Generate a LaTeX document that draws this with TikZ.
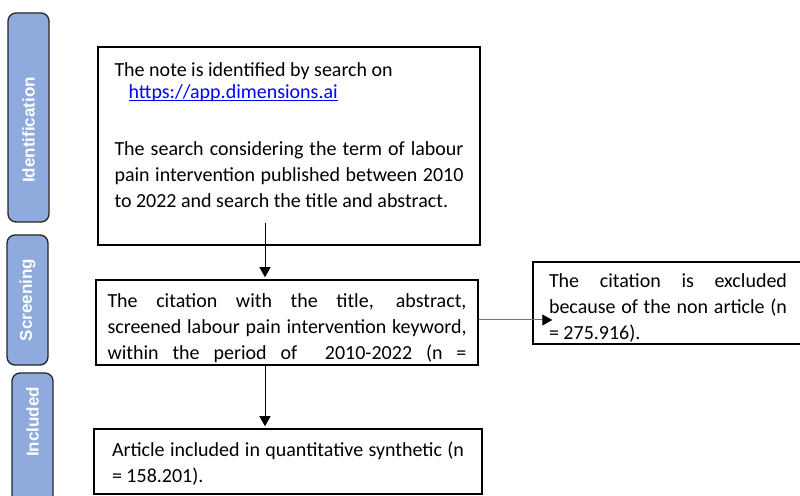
\documentclass[tikz,border=0pt]{standalone}
\usepackage{fontspec}
\setmainfont{Carlito}
\newfontfamily\phasefont{Liberation Sans}
\usetikzlibrary{arrows.meta}
\definecolor{phaseblue}{RGB}{143,170,220}
\newsavebox\linkbox

\begin{document}
\begin{tikzpicture}[x=1pt,y=1pt,
    phase/.style={draw=black!85, line width=1.3pt, fill=phaseblue, rounded corners=8pt,
        minimum height=41pt, rotate=90, text=white, inner sep=0pt,
        font=\phasefont\bfseries\fontsize{17}{20}\selectfont},
    box/.style={draw, line width=1.5pt, inner ysep=0pt,
        font=\fontsize{20}{26}\selectfont},
    arr/.style={-{Triangle[length=10pt,width=11pt]}, line width=1pt, shorten >=2pt}]
    \useasboundingbox (0,0) rectangle (800,495);

    % Phases
    \node[phase, minimum width=209pt] (idphase) at (28.5,377.5) {Identification\hspace*{25pt}};
    \node[phase, minimum width=130pt] (scphase) at (27.5,195) {Screening};
    \node[phase, minimum width=137pt] (inphase) at (32.5,53.5) {\hspace*{39pt}Included};

    % Boites
    \node[box, inner xsep=16.5pt] (ident) at (289,349) {\parbox[c][198pt][t]{349pt}{%
        \vspace*{11.8pt}\strut The note is identified by search on\\[-4pt]
        \hspace*{14pt}\sbox\linkbox{\textcolor{blue}{https://app.dimensions.ai}}%
        \rlap{\usebox\linkbox}\textcolor{blue}{\rule[-2.5pt]{\wd\linkbox}{1pt}}\par
        \vspace{31pt}
        The search considering the term of labour\linebreak
        pain intervention published between 2010\linebreak
        to 2022 and search the title and abstract.}};
    \node[box, inner xsep=11.5pt] (screen) at (287,172.5) {\parbox[c][85pt][t]{359pt}{%
        \vspace*{9.8pt}\strut The citation with the title, abstract,\linebreak
        screened labour pain intervention keyword,\linebreak
        \makebox[\linewidth][s]{within the period of\ \ 2010-2022 (n =}}};
    \node[box, inner xsep=18pt] (incl) at (288,33.5) {\parbox[c][65pt][t]{352pt}{%
        \vspace*{9.8pt}\strut Article included in quantitative synthetic (n\linebreak
        = 158.201).}};
    \node[box, inner xsep=16pt] (excl) at (668,192) {\parbox[c][82pt][t]{238pt}{%
        \vspace*{7.8pt}\strut The citation is excluded\linebreak
        because of the non article (n\linebreak
        = 275.916).}};

    % Fleches
    \coordinate (spine) at (265,0);
    \coordinate (tap) at ([yshift=2.5pt]screen.east);
    \draw[arr] ([yshift=23pt]ident.south -| spine) -- (screen.north -| spine);
    \draw[arr] (screen.south -| spine) -- (incl.north -| spine);
    \draw[-{Triangle[length=10pt,width=11pt,color=black]}, draw=black!55, line width=1pt]
        (tap) -- ([xshift=20pt]excl.west |- tap);
\end{tikzpicture}
\end{document}
